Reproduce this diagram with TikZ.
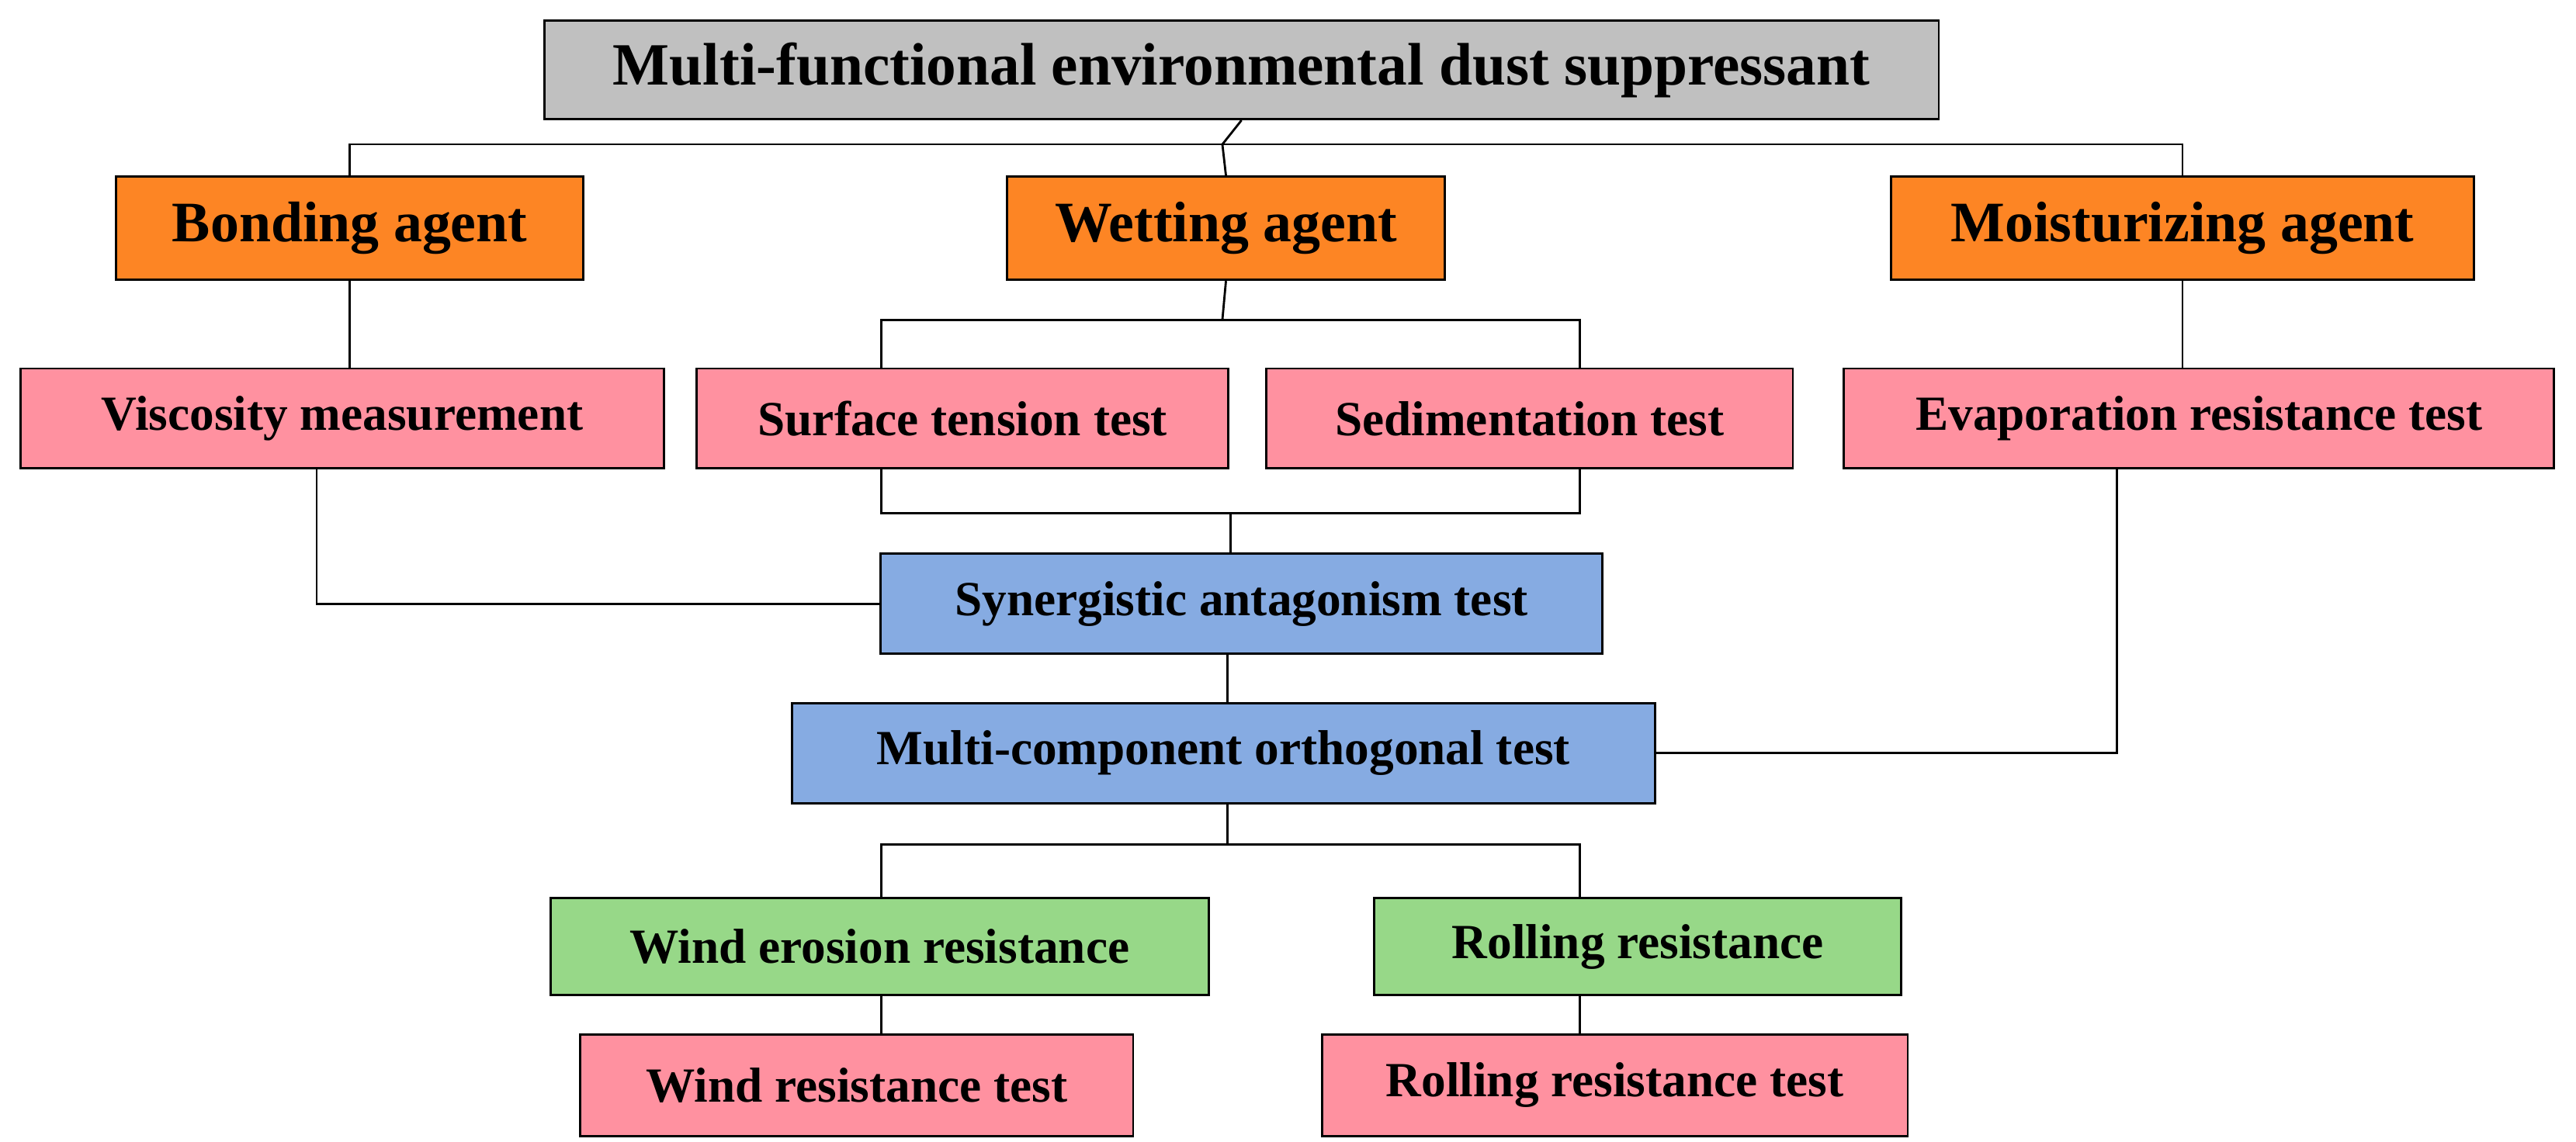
\documentclass[tikz,border=0pt]{standalone}
\usepackage{fontspec}
\setmainfont{Liberation Serif}
\begin{document}
\begin{tikzpicture}[x=0.02114cm,y=-0.02114cm,
 bx/.style={draw=black,line width=0.8pt,font=\bfseries\fontsize{18}{21}\selectfont,inner sep=0pt},
 ln/.style={line width=0.8pt}]
\definecolor{gr}{RGB}{192,192,192}
\definecolor{og}{RGB}{253,133,36}
\definecolor{pk}{RGB}{255,145,160}
\definecolor{bl}{RGB}{134,171,226}
\definecolor{gn}{RGB}{151,216,136}
\useasboundingbox (0,0) rectangle (1570,696);
\newcommand{\bxx}[7]{\node[bx,fill=#6,minimum width={(#3-#2)*0.02114cm},minimum height={(#5-#4)*0.02114cm},anchor=north west] (#1) at (#2,#4) {#7};}
\bxx{top}{331}{1181}{12}{72}{gr}{\fontsize{22}{26}\selectfont Multi-functional environmental dust suppressant}
\bxx{bond}{70}{355}{107}{170}{og}{\fontsize{21}{25}\selectfont Bonding agent}
\bxx{wet}{613}{880}{107}{170}{og}{\fontsize{21}{25}\selectfont Wetting agent}
\bxx{moist}{1152}{1507}{107}{170}{og}{\fontsize{21}{25}\selectfont Moisturizing agent}
\bxx{visc}{12}{404}{224}{285}{pk}{Viscosity measurement}
\bxx{surf}{424}{748}{224}{285}{pk}{Surface tension test}
\bxx{sed}{771}{1092}{224}{285}{pk}{Sedimentation test}
\bxx{evap}{1123}{1556}{224}{285}{pk}{Evaporation resistance test}
\bxx{syn}{536}{976}{337}{398}{bl}{Synergistic antagonism test}
\bxx{multi}{482}{1008}{428}{489}{bl}{Multi-component orthogonal test}
\bxx{wind}{335}{736}{547}{606}{gn}{Wind erosion resistance}
\bxx{roll}{837}{1158}{547}{606}{gn}{Rolling resistance}
\bxx{windt}{353}{690}{630}{692}{pk}{Wind resistance test}
\bxx{rollt}{805}{1162}{630}{692}{pk}{Rolling resistance test}
\coordinate (j1) at (745,88);
\draw[ln] (top.south) -- (j1);
\draw[ln] (j1) -| (bond.north);
\draw[ln] (j1) -| (moist.north);
\draw[ln] (j1) -- (wet.north);
\draw[ln] (bond.south) -- (visc.north-|bond.south);
\draw[ln] (moist.south) -- (evap.north-|moist.south);
\coordinate (j2) at (745,195);
\draw[ln] (wet.south) -- (j2);
\draw[ln] (j2) -| (537,224);
\draw[ln] (j2) -| (963,224);
\coordinate (j3) at (750,313);
\draw[ln] (537,285) |- (j3);
\draw[ln] (963,285) |- (j3);
\draw[ln] (j3) -- (syn.north-|j3);
\draw[ln] (193,285) |- (syn.west);
\draw[ln] (748,398) -- (748,428);
\draw[ln] (1290,285) |- (multi.east);
\coordinate (j4) at (748,515);
\draw[ln] (748,489) -- (j4);
\draw[ln] (j4) -| (537,547);
\draw[ln] (j4) -| (963,547);
\draw[ln] (537,606) -- (537,630);
\draw[ln] (963,606) -- (963,630);
\end{tikzpicture}
\end{document}
